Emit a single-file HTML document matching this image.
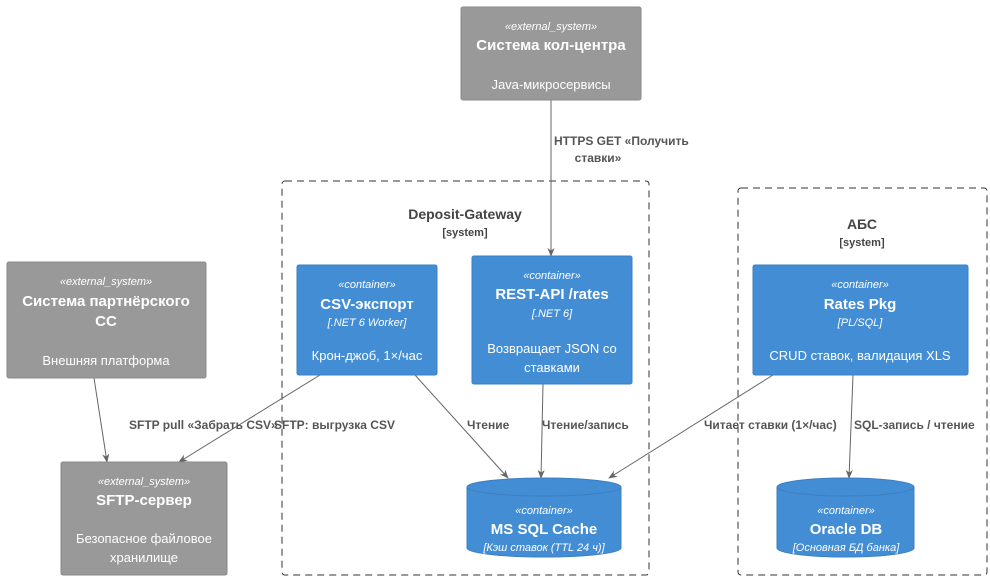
<!DOCTYPE html>
<html><head><meta charset="utf-8"><style>
body{margin:0;background:#fff}
svg text{font-family:"Liberation Sans","Noto Sans CJK SC",sans-serif}
</style></head><body>
<svg width="990" height="580" viewBox="0 0 990 580" xmlns="http://www.w3.org/2000/svg">
<defs><marker id="a" viewBox="0 0 10 10" refX="9" refY="5" markerWidth="9" markerHeight="9" orient="auto"><path d="M0,1 L10,5 L0,9 L3,5z" fill="#666"/></marker></defs>
<rect x="282" y="181" width="367" height="394" rx="3" fill="none" stroke="#333" stroke-dasharray="7,5"/>
<text x="465" y="219" text-anchor="middle" font-size="14" font-weight="bold" fill="#444">Deposit-Gateway</text>
<text x="465" y="236" text-anchor="middle" font-size="11" font-weight="bold" fill="#444">[system]</text>
<rect x="738" y="188" width="249" height="387" rx="3" fill="none" stroke="#333" stroke-dasharray="7,5"/>
<text x="862" y="229" text-anchor="middle" font-size="14" font-weight="bold" fill="#444">АБС</text>
<text x="862" y="246" text-anchor="middle" font-size="11" font-weight="bold" fill="#444">[system]</text>
<g stroke="#666" stroke-width="1" fill="none" marker-end="url(#a)">
<path d="M551,100 L551,256"/>
<path d="M94,378 L107,462"/>
<path d="M320,375 L179,462"/>
<path d="M415,375 L508,478"/>
<path d="M543,384 L541,478"/>
<path d="M773,375 L609,478"/>
<path d="M853,375 L849,478"/>
</g>
<g font-size="12" font-weight="bold" fill="#555">
<text x="554" y="145">HTTPS GET «Получить</text>
<text x="598" y="162" text-anchor="middle">ставки»</text>
<text x="129" y="429">SFTP pull «Забрать CSV»</text>
<text x="274" y="429">SFTP: выгрузка CSV</text>
<text x="467" y="429">Чтение</text>
<text x="542" y="429">Чтение/запись</text>
<text x="704" y="429">Читает ставки (1×/час)</text>
<text x="854" y="429">SQL-запись / чтение</text>
</g>
<g fill="#999" stroke="#8a8a8a">
<rect x="461" y="7" width="180" height="93" rx="2"/>
<rect x="7" y="262" width="199" height="116" rx="2"/>
<rect x="61" y="462" width="166" height="113" rx="2"/>
</g>
<g fill="#fff" text-anchor="middle">
<text x="551" y="30" font-size="11" font-style="italic">«external_system»</text>
<text x="551" y="50" font-size="15" font-weight="bold">Система кол-центра</text>
<text x="551" y="89" font-size="13">Java-микросервисы</text>
<text x="106" y="285" font-size="11" font-style="italic">«external_system»</text>
<text x="106" y="306" font-size="15" font-weight="bold">Система партнёрского</text>
<text x="106" y="326" font-size="15" font-weight="bold">CC</text>
<text x="106" y="365" font-size="13">Внешняя платформа</text>
<text x="144" y="485" font-size="11" font-style="italic">«external_system»</text>
<text x="144" y="505" font-size="15" font-weight="bold">SFTP-сервер</text>
<text x="144" y="543" font-size="13">Безопасное файловое</text>
<text x="144" y="562" font-size="13">хранилище</text>
</g>
<g fill="#438dd5" stroke="#3c7fc0">
<rect x="297" y="265" width="140" height="110" rx="2"/>
<rect x="472" y="256" width="160" height="128" rx="2"/>
<rect x="753" y="265" width="215" height="110" rx="2"/>
<path d="M467,487 L467,548 A77,9 0 0 0 621,548 L621,487 A77,9 0 0 0 467,487z"/>
<path d="M467,487 A77,9 0 0 0 621,487"/>
<path d="M777,487 L777,548 A68.5,9 0 0 0 914,548 L914,487 A68.5,9 0 0 0 777,487z"/>
<path d="M777,487 A68.5,9 0 0 0 914,487"/>
</g>
<g fill="#fff" text-anchor="middle">
<text x="367" y="288" font-size="11" font-style="italic">«container»</text>
<text x="367" y="309" font-size="15" font-weight="bold">CSV-экспорт</text>
<text x="367" y="326" font-size="11" font-style="italic">[.NET 6 Worker]</text>
<text x="367" y="360" font-size="13">Крон-джоб, 1×/час</text>
<text x="552" y="279" font-size="11" font-style="italic">«container»</text>
<text x="552" y="299" font-size="15" font-weight="bold">REST-API /rates</text>
<text x="552" y="317" font-size="11" font-style="italic">[.NET 6]</text>
<text x="552" y="353" font-size="13">Возвращает JSON со</text>
<text x="552" y="372" font-size="13">ставками</text>
<text x="860" y="288" font-size="11" font-style="italic">«container»</text>
<text x="860" y="309" font-size="15" font-weight="bold">Rates Pkg</text>
<text x="860" y="326" font-size="11" font-style="italic">[PL/SQL]</text>
<text x="860" y="360" font-size="13">CRUD ставок, валидация XLS</text>
<text x="544" y="514" font-size="11" font-style="italic">«container»</text>
<text x="544" y="534" font-size="15" font-weight="bold">MS SQL Cache</text>
<text x="544" y="551" font-size="11" font-style="italic">[Кэш ставок (TTL 24 ч)]</text>
<text x="846" y="514" font-size="11" font-style="italic">«container»</text>
<text x="846" y="534" font-size="15" font-weight="bold">Oracle DB</text>
<text x="846" y="551" font-size="11" font-style="italic">[Основная БД банка]</text>
</g>
</svg>
</body></html>
